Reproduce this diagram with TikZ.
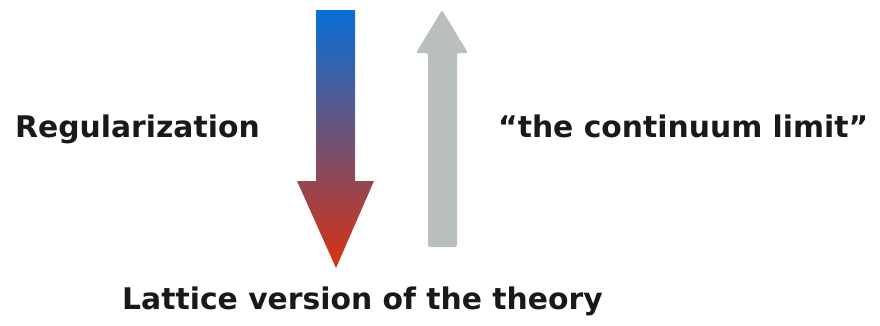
\documentclass[tikz,border=0pt]{standalone}
\usepackage{fontspec}
\setmainfont{DejaVu Sans}
\definecolor{topblue}{HTML}{0870D8}
\definecolor{midpurple}{HTML}{604878}
\definecolor{botred}{HTML}{D83210}
\definecolor{arrgray}{HTML}{B9BFBD}
\tikzset{
  lbl/.style={anchor=base west, inner sep=0pt, font=\bfseries\fontsize{29.8}{34}\selectfont, text=black!90}
}
\begin{document}
\begin{tikzpicture}[x=1pt,y=-1pt]
\useasboundingbox (0,0) rectangle (880,325);
% down arrow with gradient
\shade[top color=topblue, middle color=midpurple, bottom color=botred]
  (316,10) -- (355,10) -- (355,181) -- (374,181) -- (336,268) -- (297,181) -- (316,181) -- cycle;
% up arrow gray
\fill[arrgray, rounded corners=2pt]
  (428,247) -- (428,53) -- (416,53) -- (442,10) -- (468,53) -- (457,53) -- (457,247) -- cycle;
\node[lbl] (reg) at (15,137) {Regularization};
\node[lbl] (cont) at (498,137) {“the continuum limit”};
\node[lbl] (lat) at (122,309) {Lattice version of the theory};
\end{tikzpicture}
\end{document}
